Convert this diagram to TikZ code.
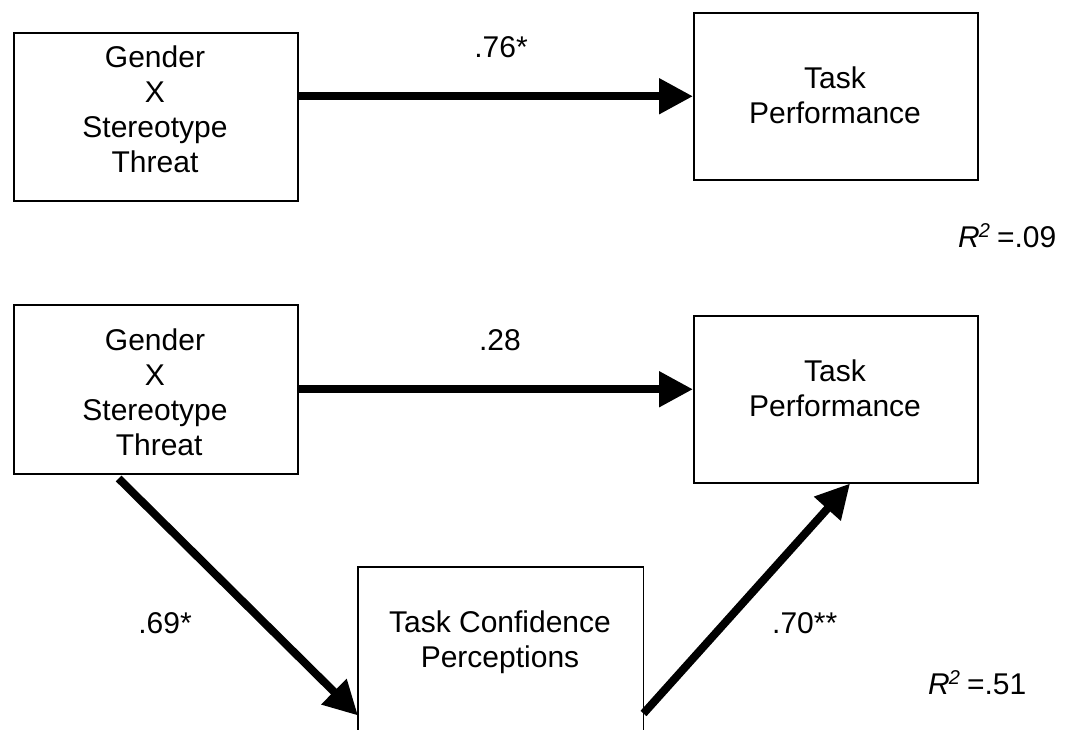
\documentclass[tikz,border=0pt]{standalone}
\usepackage{fontspec}
\setmainfont{Liberation Sans}
\usetikzlibrary{arrows.meta,calc}
\newcommand{\rsq}{\textit{R}\kern-1pt\raisebox{10pt}{\fontsize{20}{20}\selectfont\textit{2}}\kern7pt}
\begin{document}
\begin{tikzpicture}[x=1pt,y=-1pt,
  box/.style={draw,line width=1.5pt,inner sep=0pt,minimum width=284pt,anchor=north west},
  boxtext/.style={align=center,inner sep=0pt,font=\fontsize{30}{35}\selectfont},
  coef/.style={inner sep=0pt,font=\fontsize{30}{35}\selectfont},
  conn/.style={line width=8pt,-{Triangle[length=34pt,width=34pt]}}
]
\fill[white] (0,0) rectangle (1065,729);
\useasboundingbox (0,0) rectangle (1065,729);

% top model
\node[box,minimum height=168pt] (b1) at (13,32) {};
\node[box,minimum height=167pt] (b2) at (693,12) {};
\node[boxtext] (t1) at (155,109) {Gender\\X\\Stereotype\\Threat};
\node[boxtext] (t2) at (835,95) {Task\\Performance};
\draw[conn] (b1.east |- b2.west) -- (b2.west);
\node[coef,anchor=base] (c1) at (501,57) {.76*};
\node[coef,anchor=base west] (r1) at (958,247) {\rsq=.09};

% bottom model
\node[box,minimum height=169pt] (b3) at (13,304) {};
\node[box,minimum height=167pt] (b4) at (693,315) {};
\node[box,draw=none,minimum height=162pt] (b5) at (358,567) {};
\draw[line width=1.5pt] (b5.south west) -- (b5.north west) -- (b5.north east) -- (b5.south east);
\node[boxtext] (t3) at (155,392) {Gender\\X\\Stereotype\\\ Threat};
\node[boxtext] (t4) at (835,388) {Task\\Performance};
\node[boxtext] (t5) at (500,642) {Task Confidence\\Perceptions};

\draw[conn] (b3.east) -- (b3.east -| b4.west);
\draw[conn] ($(b3.south west)!0.37!(b3.south east)+(0,4)$) -- ($(b5.south west)+(0,-15)$);
\draw[conn] ($(b5.south east)+(0,-17)$) -- ($(b4.south west)!0.55!(b4.south east)$);

\node[coef,anchor=base] (c2) at (500,350) {.28};
\node[coef,anchor=base] (c3) at (165,633) {.69*};
\node[coef,anchor=base west] (c4) at (772,633) {.70**};
\node[coef,anchor=base west] (r2) at (928,694) {\rsq=.51};
\end{tikzpicture}
\end{document}
